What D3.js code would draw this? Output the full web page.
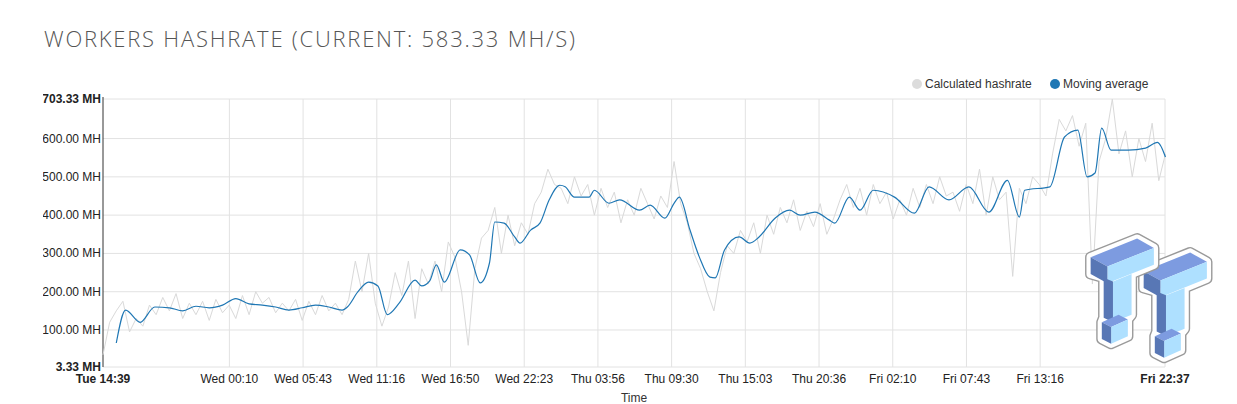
<!DOCTYPE html>
<html><head><meta charset="utf-8">
<script src="https://cdn.jsdelivr.net/npm/d3@7"></script>
<style>body{margin:0;background:#fff;font-family:Arial,"Liberation Sans",sans-serif}</style>
</head><body><svg id="c" width="1237" height="404"></svg>
<script>
const title = "WORKERS HASHRATE (CURRENT: 583.33 MH/S)";
const startTime = new Date(2018,0,2,14,39);
const endTime = new Date(2018,0,5,22,37);
const xTickLabels = ["Tue 14:39","Wed 00:10","Wed 05:43","Wed 11:16","Wed 16:50","Wed 22:23","Thu 03:56","Thu 09:30","Thu 15:03","Thu 20:36","Fri 02:10","Fri 07:43","Fri 13:16","Fri 22:37"];
const yTicks = [3.33,100,200,300,400,500,600,703.33];
// moving average: [hours since start, value MH/s]
const movingAverage = [[1,66],[1.7,152],[2.8,120],[3.9,160],[5,158],[6,150],[7,162],[8,158],[9,165],[10,182],[11,168],[12,165],[13,160],[14,152],[15,158],[16,165],[17,160],[18,152],[18.4,160],[19.2,200],[20,225],[20.7,215],[21.4,140],[22.3,170],[23.5,230],[24,215],[24.6,228],[25.1,270],[25.7,225],[26.9,309],[27.6,296],[28.4,223],[29.1,275],[29.5,382],[30.2,379],[31,343],[31.4,327],[32.2,361],[32.9,379],[33.6,440],[34.4,478],[34.8,474],[35.5,447],[36.6,447],[37,465],[38.1,431],[38.9,440],[40.4,413],[41.2,426],[42.3,392],[43,431],[43.4,447],[44.2,361],[44.9,291],[45.7,238],[46.1,236],[46.8,309],[47.9,343],[48.7,327],[49.4,343],[50.6,392],[51.7,413],[52.5,400],[53.6,408],[54.7,387],[55.1,379],[56.2,447],[57,413],[58,465],[59.6,447],[61.1,405],[62.2,474],[63.7,440],[65.2,474],[66.7,408],[68.1,491],[69,395],[69.4,465],[71.3,474],[72.4,604],[73.4,622],[74.1,500],[74.7,510],[75.2,627],[75.9,570],[77.2,570],[78.5,575],[79.4,590],[80,552]];
// calculated hashrate, sampled every 30 minutes from start
const rawStepMinutes = 30;
const rawValues = [35,120,150,175,95,130,110,
 165,140,185,150,195,130,170,140,175,125,180,145,165,130,
 190,140,200,170,185,145,170,150,180,125,175,140,190,150,170,140,
 180,280,200,300,170,110,160,
 250,190,280,130,260,220,
 280,200,330,290,200,60,260,340,360,420,
 300,400,320,380,350,430,460,520,480,
 470,430,500,450,480,400,470,420,460,380,440,400,470,430,390,450,420,540,
 430,380,300,260,200,150,250,320,300,360,
 330,380,300,400,350,420,380,440,360,410,370,430,350,390,440,480,
 420,470,400,480,430,460,390,440,400,470,420,480,430,500,450,460,410,480,430,520,400,500,440,460,
 240,470,430,500,480,450,560,650,
 620,660,580,640,220,540,600,703,560,620,500,600,540,640,490,560];

const svg = d3.select("#c");
const L=103,R=1165,T=99,B=367;
const x = d3.scaleTime().domain([startTime,endTime]).range([L,R]);
const y = d3.scaleLinear().domain([3.33,703.33]).range([B,T]);
const hrs = h => new Date(startTime.getTime()+h*3600e3);
const tickDates = xTickLabels.map((s,i)=> i===xTickLabels.length-1? endTime : new Date(startTime.getTime()+ (i===0?0:(9*60+31 + (i-1)*333)*60e3)));

svg.append("text").attr("x",44).attr("y",47).attr("font-family","'Open Sans',sans-serif").attr("font-weight",300)
  .attr("font-size",22).attr("fill","#555").attr("textLength",531).text(title);

const g = svg.append("g");
g.selectAll(".gy").data(yTicks).join("line").attr("x1",L).attr("x2",R).attr("y1",d=>y(d)).attr("y2",d=>y(d)).attr("stroke","#e2e2e2");
g.selectAll(".gx").data(tickDates.slice(1)).join("line").attr("x1",d=>x(d)).attr("x2",d=>x(d)).attr("y1",T).attr("y2",B).attr("stroke","#e2e2e2");

svg.append("clipPath").attr("id","lc").append("rect").attr("x",43).attr("y",0).attr("width",1200).attr("height",404);
const yl = svg.append("g").attr("clip-path","url(#lc)");
yl.selectAll("text").data(yTicks).join("text").attr("x",L-2).attr("y",d=>y(d)+4).attr("text-anchor","end")
  .attr("font-size",12).attr("fill","#222").attr("font-weight",(d,i)=>(i===0||i===yTicks.length-1)?"bold":"normal")
  .text(d=>d3.format(".2f")(d)+" MH");
svg.append("line").attr("x1",L).attr("x2",L).attr("y1",T-2).attr("y2",B).attr("stroke","#333");

svg.selectAll(".xl").data(tickDates).join("text").attr("x",d=>x(d)).attr("y",383).attr("text-anchor","middle")
  .attr("font-size",12).attr("fill","#222").attr("font-weight",(d,i)=>(i===0||i===tickDates.length-1)?"bold":"normal")
  .text((d,i)=>xTickLabels[i]);
svg.append("text").attr("x",634).attr("y",402).attr("text-anchor","middle").attr("font-size",12).attr("fill","#333").text("Time");

const line = d3.line().x(d=>x(d[0])).y(d=>y(d[1]));
svg.append("path").datum(rawValues.map((v,i)=>[new Date(startTime.getTime()+i*rawStepMinutes*60e3),v]))
  .attr("d",line).attr("fill","none").attr("stroke","#d9d9d9").attr("stroke-width",1);
svg.append("path").datum(movingAverage.map(d=>[hrs(d[0]),d[1]]))
  .attr("d",line.curve(d3.curveMonotoneX)).attr("fill","none").attr("stroke","#1f77b4").attr("stroke-width",1.2);

const leg=[["Calculated hashrate","#dcdcdc",917],["Moving average","#1f77b4",1055]];
leg.forEach(([t,c,lx])=>{
  svg.append("circle").attr("cx",lx).attr("cy",84).attr("r",5).attr("fill",c);
  svg.append("text").attr("x",lx+8).attr("y",88).attr("font-size",12).attr("fill","#333").text(t);
});

// watermark logo (approx)
const logo = svg.append("g").attr("transform","translate(1086,220) scale(0.93)");
const blk=(gx,gy)=>{
  const s=logo.append("g").attr("transform",`translate(${gx},${gy})`);
  const outline="M0,30 L50,10 L68,20 L68,38 L44,48 L44,92 L40,97 L40,115 L22,123 L12,118 L12,100 L14,95 L14,52 L0,48Z";
  s.append("path").attr("d",outline).attr("fill","#fff").attr("stroke","#9a9a9a").attr("stroke-width",12).attr("stroke-linejoin","round");
  s.append("path").attr("d",outline).attr("fill","#fff").attr("stroke","#fff").attr("stroke-width",9).attr("stroke-linejoin","round");
  s.append("path").attr("d","M0,30 L50,10 L68,20 L18,40Z").attr("fill","#7d9be0");
  s.append("path").attr("d","M18,40 L68,20 L68,38 L18,58Z").attr("fill","#aee0ff");
  s.append("path").attr("d","M0,30 L18,40 L18,58 L0,48Z").attr("fill","#5877b5");
  s.append("path").attr("d","M24,56 L44,48 L44,92 L24,100Z").attr("fill","#aee0ff");
  s.append("path").attr("d","M14,52 L24,56 L24,100 L14,95Z").attr("fill","#5877b5");
  s.append("path").attr("d","M12,100 L30,92 L40,97 L22,105Z").attr("fill","#7d9be0");
  s.append("path").attr("d","M22,105 L40,97 L40,115 L22,123Z").attr("fill","#aee0ff");
  s.append("path").attr("d","M12,100 L22,105 L22,123 L12,118Z").attr("fill","#5877b5");
};
blk(62,25); blk(5,10);
</script></body></html>
